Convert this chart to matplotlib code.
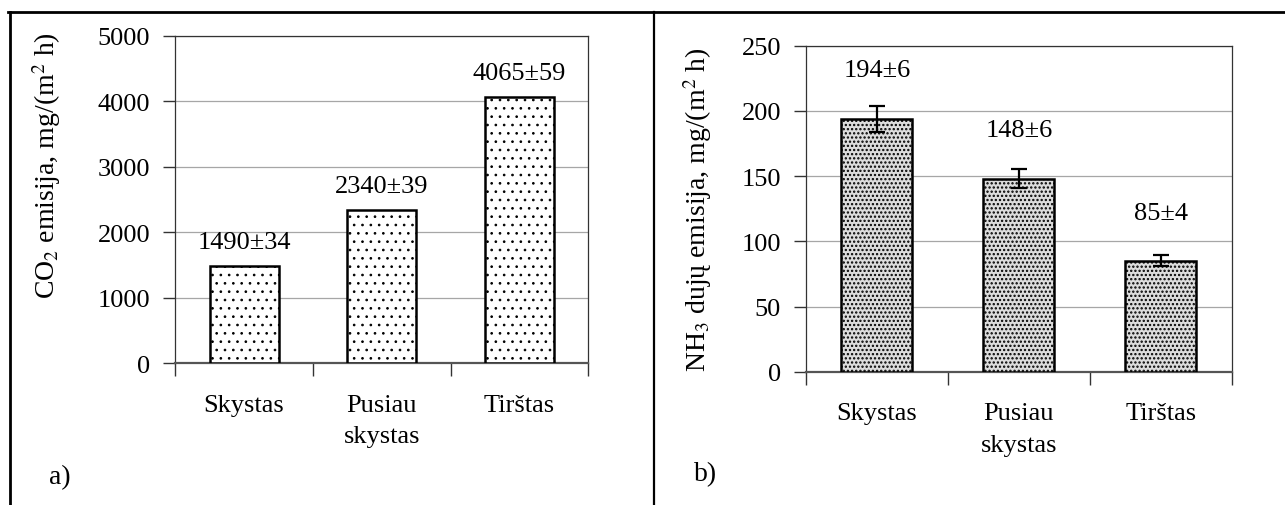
import matplotlib
matplotlib.use("Agg")
from matplotlib import pyplot as plt
from matplotlib.lines import Line2D

plt.rcParams["font.family"] = ["Liberation Serif", "DejaVu Serif"]
plt.rcParams["mathtext.fontset"] = "stix"

# Data
categories = ["Skystas", "Pusiau\nskystas", "Tirštas"]
co2_values = [1490, 2340, 4065]
co2_labels = ["1490±34", "2340±39", "4065±59"]
nh3_values = [194, 148, 85]
nh3_errors = [10, 7.4, 4.2]
nh3_labels = ["194±6", "148±6", "85±4"]

FS = 19


def style_axes(ax, ymax, ystep):
    ax.set_xlim(0, 3)
    ax.set_ylim(0, ymax)
    ax.set_yticks(range(0, ymax + 1, ystep))
    ax.set_xticks([0, 1, 2, 3])
    ax.set_xticklabels([])
    ax.set_xticks([0.5, 1.5, 2.5], minor=True)
    ax.set_xticklabels(categories, minor=True, fontsize=FS, linespacing=1.55, va="top")
    ax.tick_params(axis="x", which="minor", length=0, pad=22)
    ax.tick_params(axis="x", which="major", length=9, width=1, color="#333333", direction="out")
    ax.tick_params(axis="y", length=9, width=1, color="#333333", direction="out", labelsize=FS, pad=9)
    ax.grid(axis="y", color="#a6a6a6", linewidth=0.9)
    ax.set_axisbelow(True)
    for side in ["top", "right", "left"]:
        ax.spines[side].set_color("#333333")
        ax.spines[side].set_linewidth(0.9)
    ax.spines["bottom"].set_color("#555555")
    ax.spines["bottom"].set_linewidth(1.6)


fig = plt.figure(figsize=(12.85, 5.06), dpi=100)
x = [0.5, 1.5, 2.5]

# a) CO2
ax1 = fig.add_axes([0.1364, 0.280, 0.3214, 0.6475])
plt.rcParams["hatch.linewidth"] = 0.7
ax1.bar(x, co2_values, width=0.5, color="white", edgecolor="black", linewidth=1.8, hatch="..", zorder=3)
style_axes(ax1, 5000, 1000)
for xi, v, lab in zip(x, co2_values, co2_labels):
    ax1.annotate(lab, (xi, v), xytext=(0, 9), textcoords="offset points",
                 ha="center", va="bottom", fontsize=FS)
ax1.set_ylabel("CO$_2$ emisija, mg/(m$^2$ h)", fontsize=20)
ax1.yaxis.set_label_coords(-0.272, 0.608)

# b) NH3
ax2 = fig.add_axes([0.6272, 0.2634, 0.3315, 0.6443])
plt.rcParams["hatch.linewidth"] = 1.1
ax2.bar(x, nh3_values, width=0.5, color="#dcdcdc", edgecolor="black", linewidth=1.8, hatch="....", zorder=3)
ax2.errorbar(x, nh3_values, yerr=nh3_errors, fmt="none", ecolor="black", elinewidth=1.6,
             capsize=6, capthick=1.6, zorder=4)
style_axes(ax2, 250, 50)
for xi, v, lab in zip(x, nh3_values, nh3_labels):
    ax2.annotate(lab, (xi, v + 37), ha="center", va="center", fontsize=FS)
ax2.set_ylabel("NH$_3$ dujų emisija, mg/(m$^2$ h)", fontsize=20)
ax2.yaxis.set_label_coords(-0.216, 0.5)

# panel letters
fig.text(60 / 1285, 1 - 478 / 506, "a)", fontsize=20, ha="center", va="center")
fig.text(706 / 1285, 1 - 475 / 506, "b)", fontsize=20, ha="center", va="center")

# table-like borders
fig.add_artist(Line2D([8 / 1285, 1.0], [1 - 12.5 / 506] * 2, color="black", linewidth=2, transform=fig.transFigure))
fig.add_artist(Line2D([10 / 1285] * 2, [0, 1 - 12.5 / 506], color="black", linewidth=2, transform=fig.transFigure))
fig.add_artist(Line2D([654 / 1285] * 2, [0, 1 - 12.5 / 506], color="black", linewidth=1.6, transform=fig.transFigure))

fig.savefig("out.png", dpi=100)
